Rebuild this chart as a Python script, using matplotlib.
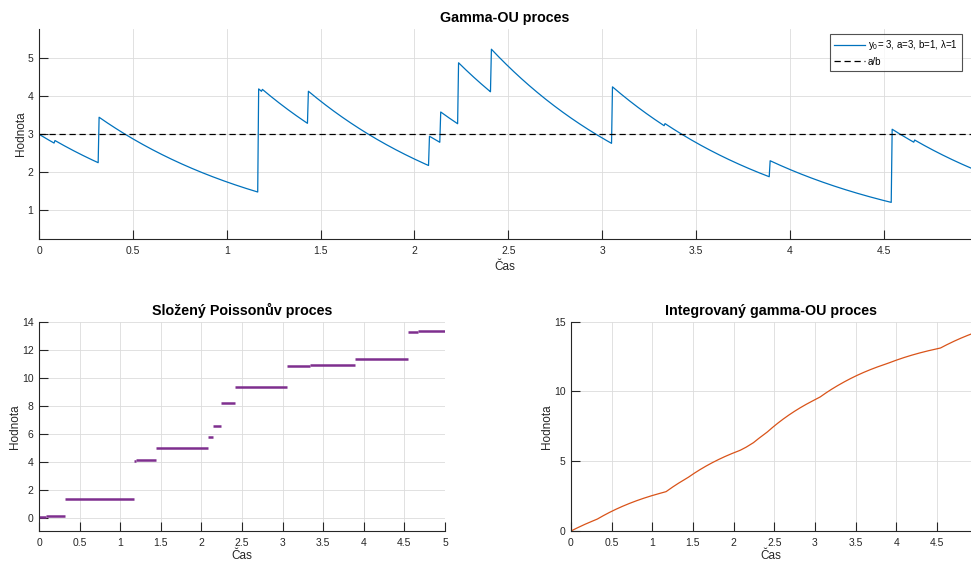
#! /usr/bin/env python3
import numpy as np
import matplotlib
matplotlib.use("Agg")
import matplotlib.pyplot as plt
from matplotlib.ticker import FuncFormatter

# parametry procesu
y0, a, b, lam = 3, 3, 1, 1

# okamziky skoku slozeneho Poissonova procesu a jeho hodnoty mezi skoky
jump_times = [0.082, 0.317, 1.170, 1.190, 1.435, 2.080, 2.140, 2.235,
              2.410, 3.055, 3.335, 3.894, 4.545, 4.665]
cpp_levels = [0.04, 0.12, 1.33, 4.05, 4.12, 4.98, 5.76, 6.57, 8.19,
              9.33, 10.83, 10.90, 11.33, 13.26, 13.33]
t_end = 5.0

plt.rcParams['font.family'] = ['Liberation Sans', 'DejaVu Sans']
plt.rcParams['mathtext.fontset'] = 'custom'
plt.rcParams['mathtext.rm'] = 'Liberation Sans'
plt.rcParams['mathtext.it'] = 'Liberation Sans'

AX = '#262626'
BLUE = '#0072BD'
ORANGE = '#D95319'
PURPLE = '#7E2F8E'

# gamma-OU: dy = -lam*y dt + dZ, presne reseni mezi skoky
dt = 0.005
t = np.arange(0, t_end + dt / 2, dt)
jumps = np.diff(cpp_levels)
y = y0 * np.exp(-lam * t)
for tj, dz in zip(jump_times, jumps):
    y += np.where(t >= tj, dz * np.exp(-lam * (t - tj)), 0.0)

# integral lichobeznikovou metodou
integ = np.concatenate([[0], np.cumsum((y[1:] + y[:-1]) / 2 * dt)])


def style(ax, xlim, ylim, xticks, yticks, xlabelpad=4):
    ax.set_xlim(*xlim)
    ax.set_ylim(*ylim)
    ax.set_xticks(xticks)
    ax.set_yticks(yticks)
    fmt = FuncFormatter(lambda v, p: f'{v:g}')
    ax.xaxis.set_major_formatter(fmt)
    ax.yaxis.set_major_formatter(fmt)
    for s in ('top', 'right'):
        ax.spines[s].set_visible(False)
    for s in ('left', 'bottom'):
        ax.spines[s].set_color(AX)
        ax.spines[s].set_linewidth(0.8)
    ax.tick_params(direction='in', length=6.5, width=0.8, color=AX,
                   labelcolor=AX, labelsize=7.5)
    ax.tick_params(axis='x', pad=5)
    ax.tick_params(axis='y', pad=4)
    ax.grid(True, color='#dcdcdc', linewidth=0.6)
    ax.set_axisbelow(True)
    ax.set_xlabel('Čas', fontsize=8.5, color=AX, labelpad=xlabelpad)
    ax.set_ylabel('Hodnota', fontsize=8.5, color=AX, labelpad=0.5)


fig = plt.figure(figsize=(9.71, 5.63), dpi=100)
ax1 = fig.add_axes([0.0402, 0.5755, 0.9598, 0.373])
ax2 = fig.add_axes([0.0402, 0.0574, 0.4181, 0.3712])
ax3 = fig.add_axes([0.588, 0.0568, 0.412, 0.3718])

ax1.plot(t, y, color=BLUE, linewidth=0.9,
         label=r'y$_0$= 3, a=3, b=1, $\lambda$=1')
ax1.axhline(a / b, color='black', linestyle=(0, (5, 3)), linewidth=0.9,
            label='a/b')
style(ax1, (0, 4.965), (0.245, 5.77), np.arange(0, 4.6, 0.5), [1, 2, 3, 4, 5])
ax1.set_title('Gamma-OU proces', fontsize=10.3, fontweight='bold', pad=5)
leg = ax1.legend(loc='upper right', bbox_to_anchor=(962 / 971, 1 - 34 / 563),
                 bbox_transform=fig.transFigure, fontsize=7, frameon=True,
                 fancybox=False, edgecolor=AX, borderaxespad=0,
                 handlelength=3.2, handletextpad=0.3,
                 borderpad=0.45, labelspacing=0.45)
leg.get_frame().set_linewidth(0.8)

starts = [0] + jump_times
ends = jump_times + [t_end]
for s, e, v in zip(starts, ends, cpp_levels):
    ax2.plot([s, e], [v, v], color=PURPLE, linewidth=1.8, solid_capstyle='butt')
style(ax2, (0, 5), (-0.93, 14), np.arange(0, 5.1, 0.5), np.arange(0, 15, 2),
      xlabelpad=1.5)
ax2.set_title('Složený Poissonův proces', fontsize=10.3, fontweight='bold', pad=5)

ax3.plot(t, integ, color=ORANGE, linewidth=0.9)
style(ax3, (0, 4.92), (0, 15), np.arange(0, 4.6, 0.5), [0, 5, 10, 15],
      xlabelpad=1.5)
ax3.set_title('Integrovaný gamma-OU proces', fontsize=10.3, fontweight='bold', pad=5)

fig.savefig('out.png', dpi=100)
